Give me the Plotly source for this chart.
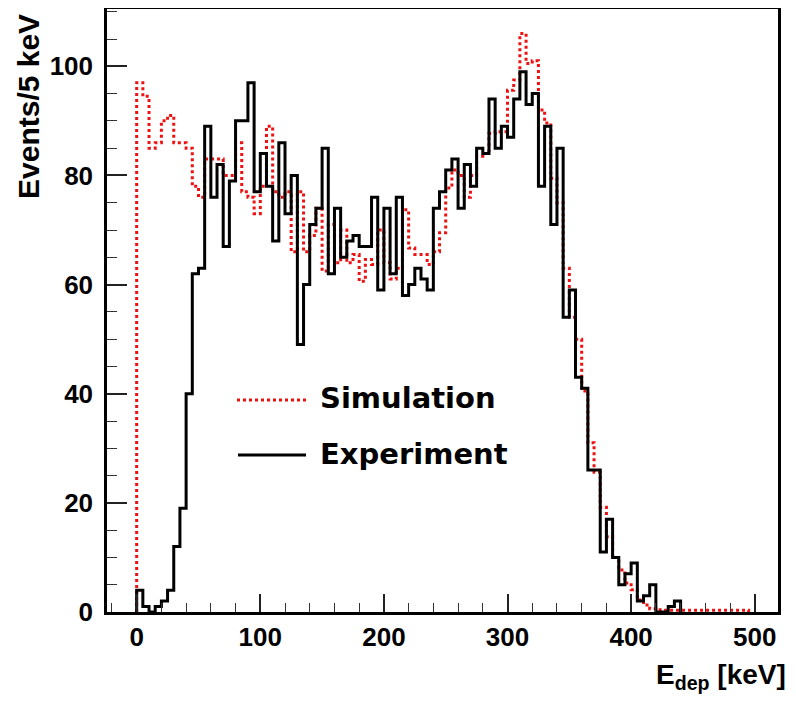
import numpy as np
import plotly.graph_objects as go

# ---------------- data ----------------
BIN_WIDTH_KEV = 5.0          # "Events/5 keV"
HIST_START_KEV = 0.0

# Experiment: counts per 5 keV bin, starting at 0 keV
exp_counts = [4, 1, 0, 1, 2, 4, 12, 19, 40, 62,
              63, 89, 76, 82, 67, 79, 90, 90, 97, 77,
              84, 78, 68, 86, 73, 80, 49, 60, 71, 74,
              85, 62, 74, 65, 68, 69, 67, 67, 76, 59,
              74, 62, 76, 58, 60, 63, 61, 59, 74, 77,
              81, 83, 74, 82, 78, 85, 84, 94, 85, 89,
              87, 94, 99, 93, 95, 78, 89, 71, 85, 54,
              59, 43, 41, 26, 26, 11, 17, 10, 5, 7,
              9, 2, 3, 5, 0, 0, 1, 2]

# Simulation: counts per 5 keV bin, starting at 0 keV
sim_counts = [97, 94.5, 85, 86, 90, 91, 86, 86, 85, 78,
              76, 83, 83, 83, 80, 80, 86, 77, 76, 73,
              78, 89, 77, 76, 77, 66, 77, 66, 69, 74,
              62.5, 71, 64, 70, 64, 65.5, 60.6, 64.6, 63.7, 70,
              64, 61, 63, 73.7, 66.7, 65.5, 65.5, 63.7, 66, 69.5,
              77.7, 81, 80, 76, 80, 83.5, 84, 87.7, 88, 88,
              95.6, 97.5, 106, 100.5, 101, 92, 89.6, 79.5, 75, 63,
              54, 50, 40.5, 31, 25.6, 19.2, 13.8, 10, 7.7, 5.3,
              4.1, 2.2, 1.3, 0.6, 0.4, 0.3, 0.3, 0.3, 0.3, 0.3,
              0.3, 0.3, 0.3, 0.3, 0.3, 0.3, 0.3, 0.3, 0.3]

x_tick_values = [0, 100, 200, 300, 400, 500]
x_tick_labels = ["0", "100", "200", "300", "400", "500"]
y_tick_values = [0, 20, 40, 60, 80, 100]
y_tick_labels = ["0", "20", "40", "60", "80", "100"]

legend_labels = ["Simulation", "Experiment"]
x_title = "E<sub>dep</sub> [keV]"
y_title = "Events/5 keV"


def step_outline(counts):
    """ROOT-like histogram outline: from baseline up, along bin tops, back down."""
    n = len(counts)
    edges = HIST_START_KEV + BIN_WIDTH_KEV * np.arange(n + 1)
    xs = [edges[0]] + list(edges[:-1]) + [edges[-1], edges[-1]]
    ys = [0] + list(counts) + [counts[-1], 0]
    return xs, ys


# ---------------- figure ----------------
# the page body has an 8px margin, so the figure is drawn 8px in from the top-left
OFF = 8
W, H = 796 - OFF, 704 - OFF
ML, MR, MT, MB = 99, 18, 1, 92
PW, PH = W - ML - MR, H - MT - MB

TICK_FONT = dict(family="Liberation Sans, Arial, sans-serif", size=26, color="black", weight="bold")

fig = go.Figure()

xs, ys = step_outline(sim_counts)
fig.add_trace(go.Scatter(x=xs, y=ys, mode="lines", line_shape="hv",
                         line=dict(color="#ee1111", width=3, dash="dot"),
                         name=legend_labels[0], showlegend=False, hoverinfo="skip"))

xs, ys = step_outline(exp_counts)
fig.add_trace(go.Scatter(x=xs, y=ys, mode="lines", line_shape="hv",
                         line=dict(color="black", width=3),
                         name=legend_labels[1], showlegend=False, hoverinfo="skip"))

fig.update_layout(
    width=W, height=H, autosize=False,
    margin=dict(l=ML, r=MR, t=MT, b=MB, autoexpand=False),
    paper_bgcolor="white", plot_bgcolor="white",
    showlegend=False,
)

fig.update_xaxes(
    range=[-24.0, 518.8], showgrid=False, zeroline=False,
    showline=True, linecolor="black", linewidth=2.5, mirror=True,
    ticks="inside", ticklen=18, tickwidth=1.5, tickcolor="#222",
    tickvals=x_tick_values, ticktext=x_tick_labels,
    tickfont=TICK_FONT, ticklabelstandoff=0,
    minor=dict(ticks="inside", ticklen=9, tickwidth=1.2, tickcolor="#333", dtick=20, tick0=0, showgrid=False),
)
fig.update_yaxes(
    range=[0, 110.5], showgrid=False, zeroline=False,
    showline=True, linecolor="black", linewidth=2.5, mirror=True,
    ticks="inside", ticklen=20, tickwidth=1.5, tickcolor="#222",
    tickvals=y_tick_values, ticktext=y_tick_labels,
    tickfont=TICK_FONT, ticklabelstandoff=6,
    minor=dict(ticks="inside", ticklen=10, tickwidth=1.2, tickcolor="#333", dtick=5, tick0=0, showgrid=False),
)


def px_x(p):
    """page pixel -> paper fraction"""
    return (p - OFF - ML) / PW


def px_y(p):
    return (H - MB - (p - OFF)) / PH


# axis titles
fig.add_annotation(text=y_title, textangle=-90, xref="paper", yref="paper",
                   x=px_x(28), y=px_y(107), xanchor="center", yanchor="middle", showarrow=False,
                   borderpad=0,
                   font=dict(family="Liberation Sans, Arial, sans-serif", size=30, color="black", weight="bold"))
fig.add_annotation(text=x_title, xref="paper", yref="paper",
                   x=px_x(788), y=px_y(676), xanchor="right", yanchor="middle", showarrow=False,
                   font=dict(family="Liberation Sans, Arial, sans-serif", size=28, color="black", weight="bold"))

# legend (line samples + labels)
LEG_FONT = dict(family="DejaVu Sans, sans-serif", size=29, color="black", weight="bold")
fig.add_shape(type="line", xref="paper", yref="paper", x0=px_x(237), x1=px_x(307),
              y0=px_y(400), y1=px_y(400), line=dict(color="#ee1111", width=3, dash="dot"))
fig.add_shape(type="line", xref="paper", yref="paper", x0=px_x(238), x1=px_x(306),
              y0=px_y(455), y1=px_y(455), line=dict(color="black", width=3))
fig.add_annotation(text=legend_labels[0], xref="paper", yref="paper", x=px_x(318), y=px_y(398),
                   xanchor="left", yanchor="middle", showarrow=False, font=LEG_FONT)
fig.add_annotation(text=legend_labels[1], xref="paper", yref="paper", x=px_x(318), y=px_y(454),
                   xanchor="left", yanchor="middle", showarrow=False, font=LEG_FONT)

fig.write_html("out.html")
